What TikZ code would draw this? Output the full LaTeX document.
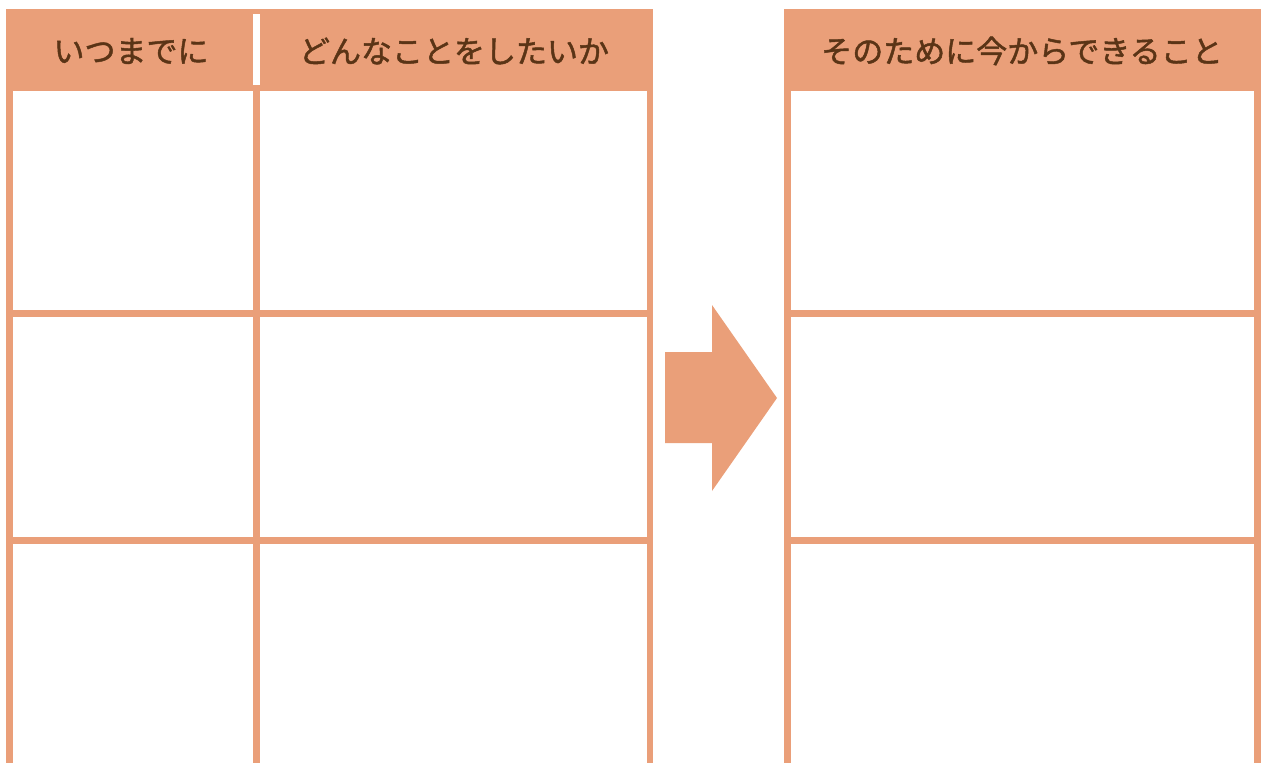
\documentclass[tikz,border=0pt]{standalone}
\usepackage{fontspec}
\newfontfamily\jpfont[FakeBold=1.5]{Noto Sans CJK JP}
\definecolor{salmon}{HTML}{EA9F79}
\definecolor{brown}{HTML}{5A3416}
\begin{document}
\begin{tikzpicture}[x=1pt,y=-1pt,
  band/.style={fill=salmon,draw=none},
  headtext/.style={text=brown,font=\jpfont\fontsize{31}{31}\selectfont,inner sep=0pt,anchor=center}]
\useasboundingbox (0,0) rectangle (1264,763);
% left table header
\fill[band] (6,9) rectangle (653,91);
\fill[white] (253,14) rectangle (260,85);
% left table lines
\fill[band] (6,91) rectangle (13,763);
\fill[band] (253,91) rectangle (260,763);
\fill[band] (647,91) rectangle (653,763);
\fill[band] (6,310) rectangle (653,317);
\fill[band] (6,537) rectangle (653,544);
% right table
\fill[band] (784,9) rectangle (1261,91);
\fill[band] (784,91) rectangle (791,763);
\fill[band] (1254,91) rectangle (1261,763);
\fill[band] (784,310) rectangle (1261,317);
\fill[band] (784,537) rectangle (1261,544);
% arrow
\fill[band] (665,352) -- (712,352) -- (712,305) -- (777,398) -- (712,491) -- (712,443) -- (665,443) -- cycle;
% header texts
\node[headtext] (when) at (131,51) {いつまでに};
\node[headtext] (what) at (454,51) {どんなことをしたいか};
\node[headtext] (now) at (1022,51) {そのために今からできること};
\end{tikzpicture}
\end{document}
